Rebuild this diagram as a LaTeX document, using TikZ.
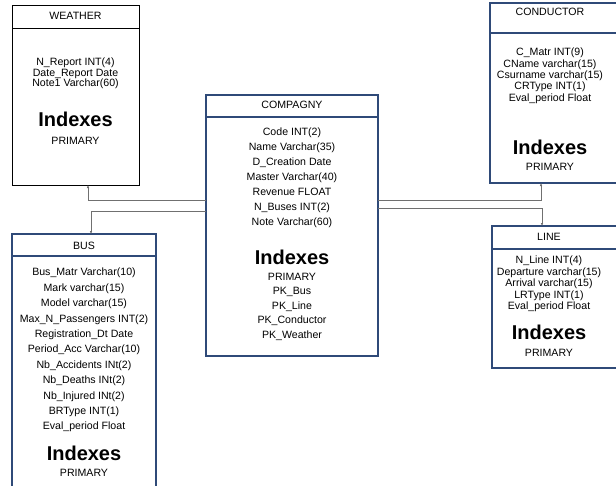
\documentclass[tikz,border=0pt]{standalone}
\usepackage{fontspec}
\setmainfont{Liberation Sans}
\usetikzlibrary{arrows.meta, positioning}
\definecolor{TableBlue}{RGB}{47,74,120}
\definecolor{LinkGray}{RGB}{112,112,112}

\begin{document}
\begin{tikzpicture}[x=1pt, y=-1pt,
          table/.style={rectangle, draw=TableBlue, line width=1.2pt, anchor=north west, inner sep=0, outer sep=0},
          header/.style={draw=TableBlue, line width=1.2pt},
          title/.style={inner sep=0, font=\fontsize{10.6}{12}\selectfont},
          fields/.style={inner sep=0, align=center, font={\fontsize{10.6}{#1}\selectfont\lineskiplimit=-20pt}},
          idx/.style={inner sep=0, font=\fontsize{20}{24}\selectfont\bfseries},
          link/.style={-{Latex[length=3pt, width=2.6pt]}, line width=1pt, LinkGray}
        ]
          \useasboundingbox (0,0) rectangle (616,485);
          \clip (0,0) rectangle (616,485);

          % tables
          \node (weather) [table, draw=black, line width=1pt, minimum width=127, minimum height=180] at (12,5) {};
          \node (conductor) [table, minimum width=128, minimum height=180] at (490,3) {};
          \node (compagny) [table, minimum width=172, minimum height=261] at (206,95) {};
          \node (bus) [table, minimum width=144, minimum height=270] at (12,234) {};
          \node (line) [table, minimum width=126, minimum height=142] at (492,226) {};

          \draw [header, draw=black, line width=1pt] ([yshift=-23pt]weather.north west) -- ([yshift=-23pt]weather.north east);
          \draw [header] ([yshift=-30pt]conductor.north west) -- ([yshift=-30pt]conductor.north east);
          \draw [header] ([yshift=-22pt]compagny.north west) -- ([yshift=-22pt]compagny.north east);
          \draw [header] ([yshift=-22pt]bus.north west) -- ([yshift=-22pt]bus.north east);
          \draw [header] ([yshift=-23pt]line.north west) -- ([yshift=-23pt]line.north east);

          % WEATHER
          \node (weathertitle) [title, below=7.3pt of weather.north] {WEATHER};
          \node (weatherfields) [fields=10.3, below=53pt of weather.north] {N\_Report INT(4)\\Date\_Report Date\\Note1 Varchar(60)};
          \node (weatheridx) [idx, below=106.5pt of weather.north] {Indexes};
          \node (weatherkeys) [fields=12, below=132pt of weather.north] {PRIMARY};

          % CONDUCTOR
          \node (conductortitle) [title, below=5.3pt of conductor.north, xshift=-4pt] {CONDUCTOR};
          \node (conductorfields) [fields=11.3, below=45pt of conductor.north, xshift=-4pt] {C\_Matr INT(9)\\CName varchar(15)\\Csurname varchar(15)\\CRType INT(1)\\Eval\_period Float};
          \node (conductoridx) [idx, below=136.5pt of conductor.north, xshift=-4pt] {Indexes};
          \node (conductorkeys) [fields=12, below=160pt of conductor.north, xshift=-4pt] {PRIMARY};

          % COMPAGNY
          \node (compagnytitle) [title, below=6.3pt of compagny.north] {COMPAGNY};
          \node (compagnyfields) [fields=15, below=33pt of compagny.north] {Code INT(2)\\Name Varchar(35)\\D\_Creation Date\\Master Varchar(40)\\Revenue FLOAT\\N\_Buses INT(2)\\Note Varchar(60)};
          \node (compagnyidx) [idx, below=154.5pt of compagny.north] {Indexes};
          \node (compagnykeys) [fields=14.5, below=178pt of compagny.north] {PRIMARY\\PK\_Bus\\PK\_Line\\PK\_Conductor\\PK\_Weather};

          % BUS
          \node (bustitle) [title, below=8.3pt of bus.north] {BUS};
          \node (busfields) [fields=15.4, below=34pt of bus.north] {Bus\_Matr Varchar(10)\\Mark varchar(15)\\Model varchar(15)\\Max\_N\_Passengers INT(2)\\Registration\_Dt Date\\Period\_Acc Varchar(10)\\Nb\_Accidents INt(2)\\Nb\_Deaths INt(2)\\Nb\_Injured INt(2)\\BRType INT(1)\\Eval\_period Float};
          \node (busidx) [idx, below=211.5pt of bus.north] {Indexes};
          \node (buskeys) [fields=12, below=235pt of bus.north] {PRIMARY};

          % LINE
          \node (linetitle) [title, below=7.3pt of line.north, xshift=-6pt] {LINE};
          \node (linefields) [fields=11.5, below=30pt of line.north, xshift=-6pt] {N\_Line INT(4)\\Departure varchar(15)\\Arrival varchar(15)\\LRType INT(1)\\Eval\_period Float};
          \node (lineidx) [idx, below=98.5pt of line.north, xshift=-6pt] {Indexes};
          \node (linekeys) [fields=12, below=123pt of line.north, xshift=-6pt] {PRIMARY};

          % links
          \draw [link] ([yshift=25.5pt]compagny.west) -| ([xshift=12.5pt]weather.south);
          \draw [link] ([yshift=14.5pt]compagny.west) -| ([xshift=7pt]bus.north);
          \draw [link] ([yshift=25.5pt]compagny.east) -| ([xshift=-13pt]conductor.south);
          \draw [link] ([yshift=17.5pt]compagny.east) -| ([xshift=-13pt]line.north);
        \end{tikzpicture}
\end{document}
